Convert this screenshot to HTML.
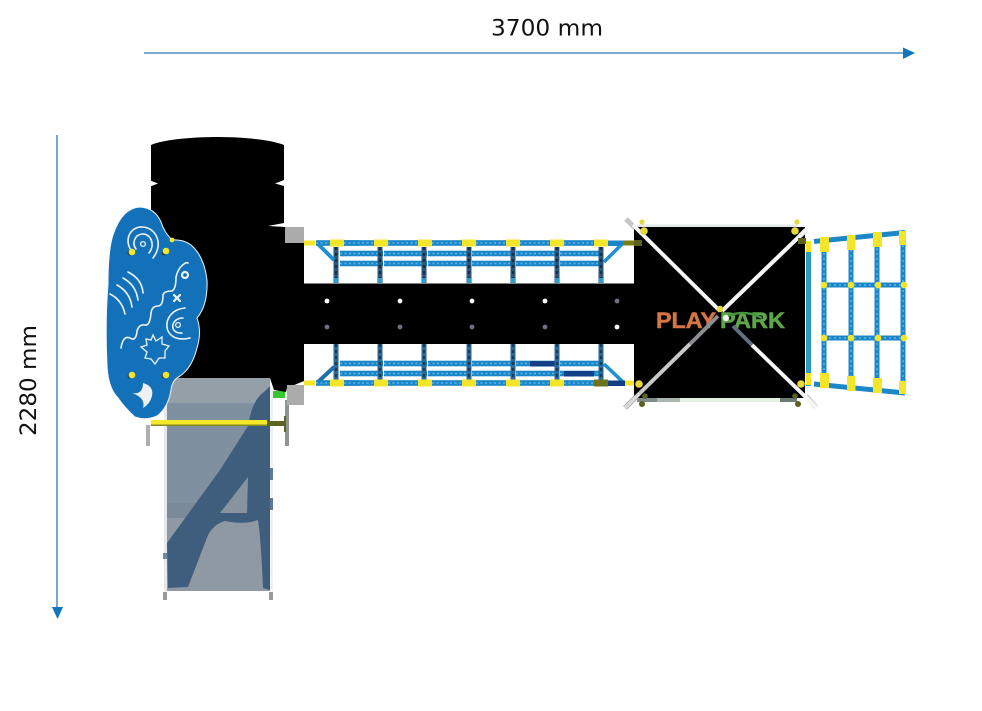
<!DOCTYPE html>
<html>
<head>
<meta charset="utf-8">
<style>
html,body{margin:0;padding:0;background:#fff;width:982px;height:711px;overflow:hidden}
svg{display:block}
.soft{filter:blur(.35px)}
</style>
</head>
<body>
<svg width="982" height="711" viewBox="0 0 982 711" xmlns="http://www.w3.org/2000/svg">
<defs>
<g id="rh"><rect x="0" y="-2.8" width="43" height="5.6" fill="#1b87c9"/><line x1="0" y1="0" x2="43" y2="0" stroke="#5db6e6" stroke-width="1.6" stroke-dasharray="2 2.5"/></g>
<g id="vt"><line x1="0" y1="0" x2="0" y2="36" stroke="#2d587c" stroke-width="5"/><line x1="0" y1="0" x2="0" y2="36" stroke="#18304a" stroke-width="2.4" stroke-dasharray="3 3"/><line x1="0" y1="31" x2="0" y2="36" stroke="#2aa0cc" stroke-width="4"/></g>
<g id="vb"><line x1="0" y1="0" x2="0" y2="39" stroke="#2b6a98" stroke-width="5"/><line x1="0" y1="0" x2="0" y2="39" stroke="#1c3a58" stroke-width="2.4" stroke-dasharray="3 3"/></g>
<rect id="yb" x="-7" y="-3.5" width="14" height="7" fill="#f5e52a"/>
</defs>

<rect width="982" height="711" fill="#fff"/>

<!-- dimension arrows -->
<line x1="144" y1="53" x2="904" y2="53" stroke="#2a7ab8" stroke-width="1.3"/>
<polygon points="903,47.5 915,53 903,59" fill="#1274bb"/>
<line x1="57" y1="135" x2="57" y2="608" stroke="#2a7ab8" stroke-width="1.3"/>
<polygon points="52,607 63,607 57.5,619" fill="#1274bb"/>
<text x="491" y="35.5" font-family="'DejaVu Sans',sans-serif" font-size="22" textLength="112" lengthAdjust="spacingAndGlyphs" fill="#111">3700 mm</text>
<text transform="translate(36,436) rotate(-90)" font-family="'DejaVu Sans',sans-serif" font-size="22" textLength="111" lengthAdjust="spacingAndGlyphs" fill="#111">2280 mm</text>

<g class="soft">
<!-- slide -->
<rect x="164" y="385" width="3" height="206" fill="#e6e8eb"/>
<rect x="270" y="386" width="3" height="205" fill="#f0f1f3"/>
<path d="M167 378 L267 378 Q270 378 270 381 L270 591 L167 591 Z" fill="#8f99a4"/>
<rect x="167" y="378" width="103" height="25" fill="#959fa8"/>
<rect x="167" y="403" width="103" height="115" fill="#7f91a1"/>
<rect x="167" y="503" width="103" height="15" fill="#7a8a99"/>
<path d="M264 392 L270 386 L270 590 L263 588 Q261 540 258 520 L251 522 Q240 524 225 521 Q214 524 208 535 L188 587 L168 588 L167 543 L220 470 L248 426 Q252 400 264 392 Z" fill="#3f5d7c"/>
<path d="M248 477 L220 513 L247 513 Z" fill="#87939f"/>
<rect x="270" y="468" width="3" height="12" fill="#5f7a95"/>
<rect x="270" y="498" width="3" height="12" fill="#5f7a95"/>
<rect x="163" y="553" width="4" height="6" fill="#6f8aa6"/>
<rect x="163" y="592" width="4" height="8" fill="#9a9a9a"/>
<rect x="269" y="592" width="4" height="8" fill="#9a9a9a"/>

<!-- bars under slide -->
<rect x="146" y="425" width="4" height="21" fill="#aeb0ae"/>
<rect x="285" y="400" width="4" height="46" fill="#8c9498"/>
<rect x="273" y="391" width="12" height="7" fill="#37c62d"/>
<rect x="151" y="420" width="116" height="5" fill="#f4e829"/>
<rect x="151" y="424.5" width="116" height="1.5" fill="#848a1e"/>
<rect x="267" y="421" width="18" height="5" fill="#5d6420"/>
<rect x="284" y="416" width="2" height="16" fill="#5d6420"/>

<!-- black tower -->
<path d="M151 145 C165 139 195 137 218 137 C245 137 272 140 284 145 L284 180 L275 183.5 L284 186 L284 223 L268 226 L285 227 L304 227 L304 381 L287 388 L286 392 L274 390 L270 378 L167 378 L160 390 L151 300 Z" fill="#000"/>
<path d="M149 180 L158 183.5 L149 187 Z" fill="#fff"/>
<rect x="285" y="227" width="19" height="16" fill="#ababab"/>
<rect x="287" y="385" width="17" height="20" fill="#ababab"/>

<!-- cloud panel -->
<path d="M140 207 Q155 208 161 222 Q164 232 172 240 Q183 239 191 245 Q204 256 207 280 Q208 305 197 318 Q202 332 197 348 Q192 368 180 376 Q172 380 171 390 Q168 408 157 416 Q146 421 135 417 Q125 408 118 398 Q108 388 107 365 Q105 320 108 285 Q108 250 113 235 Q122 208 140 207 Z" fill="#1271b8" stroke="#f2f6fa" stroke-width="1"/>
<g fill="none" stroke="#eef3f8" stroke-width="1.6" stroke-linecap="round">
<path d="M153 258 C164 244 156 228 143 227 C130 226 124 240 131 250"/>
<path d="M149 253 C156 244 150 233 142 234 C134 235 132 244 136 249"/>
<circle cx="143" cy="244" r="2.4" stroke-width="1.3"/>
<path d="M128 272 Q142 279 143 293"/>
<path d="M123 278 Q136 285 138 300"/>
<path d="M117 285 Q130 292 132 307"/>
<path d="M110 294 Q122 300 125 314"/>
<path d="M121 348 Q123 335 130 338 Q136 342 137 331 Q139 324 145 325 Q150 326 151 313 Q152 306 158 306 Q163 306 163 295 Q164 291 172 291 Q176 289 176 277 Q178 268 184 264 Q186 262 188 263"/>
<path d="M185 308 C160 310 160 345 190 338"/>
<path d="M183 318 C170 318 169 334 182 333"/>
<circle cx="178" cy="325" r="2.4" stroke-width="1.3"/>
<path d="M153 335 L156 341 L162 337 L162 344 L169 346 L165 351 L165 358 L159 358 L155 364 L151 359 L145 358 L147 352 L141 347 L147 345 L146 339 L151 340 Z" stroke-width="1.3"/>
<path d="M174 295 L180 301 M180 295 L174 301" stroke-width="2.2"/>
<circle cx="185" cy="275" r="3" stroke-width="2.2"/>
</g>
<path d="M132 393 Q143 395 143 383 Q154 386 152 396 Q150 404 143 408 Q146 398 132 393 Z" fill="#edf0f4"/>
<g fill="#2c3f55"><circle cx="130" cy="253" r="2.5"/><circle cx="164" cy="253" r="2.5"/><circle cx="130" cy="376" r="2.5"/><circle cx="164" cy="376" r="2.5"/></g>
<g fill="#f2e628">
<circle cx="132" cy="252" r="3.3"/><circle cx="166" cy="251" r="3.3"/><circle cx="132" cy="375" r="3.3"/><circle cx="166" cy="375" r="3.3"/>
<circle cx="172" cy="240" r="2.4"/>
</g>

<!-- black beam -->
<rect x="304" y="283.5" width="331" height="60.5" fill="#000"/>
<g fill="#fff"><circle cx="327" cy="301" r="2.4"/><circle cx="400" cy="301" r="2.4"/><circle cx="472" cy="301" r="2.4"/><circle cx="545" cy="301" r="2.4"/><circle cx="617" cy="327" r="2.4"/></g>
<g fill="#6d7084"><circle cx="617" cy="301" r="2.4"/><circle cx="327" cy="327" r="2.4"/><circle cx="400" cy="327" r="2.4"/><circle cx="472" cy="327" r="2.4"/><circle cx="545" cy="327" r="2.4"/></g>

<!-- bridge top -->
<g>
<use href="#rh" x="340" y="253.5"/><use href="#rh" x="384" y="253.5"/><use href="#rh" x="428" y="253.5"/><use href="#rh" x="472" y="253.5"/><use href="#rh" x="516" y="253.5"/><use href="#rh" x="560" y="253.5"/>
<use href="#rh" x="340" y="263.5"/><use href="#rh" x="384" y="263.5"/><use href="#rh" x="428" y="263.5"/><use href="#rh" x="472" y="263.5"/><use href="#rh" x="516" y="263.5"/><use href="#rh" x="560" y="263.5"/>
<use href="#vt" x="336" y="247"/><use href="#vt" x="380" y="247"/><use href="#vt" x="424" y="247"/><use href="#vt" x="469" y="247"/><use href="#vt" x="513" y="247"/><use href="#vt" x="557" y="247"/><use href="#vt" x="601" y="247"/>
<line x1="318" y1="244" x2="334" y2="260" stroke="#1f8fd0" stroke-width="4"/>
<line x1="622" y1="244" x2="604" y2="262" stroke="#1f8fd0" stroke-width="3.5"/>
<use href="#rh" x="316" y="243"/><use href="#rh" x="344" y="243"/><use href="#rh" x="388" y="243"/><use href="#rh" x="432" y="243"/><use href="#rh" x="476" y="243"/><use href="#rh" x="520" y="243"/><use href="#rh" x="564" y="243"/>
<rect x="608" y="240.5" width="15" height="5.5" fill="#1b87c9"/>
<rect x="304" y="240.5" width="11" height="5" fill="#f5e52a"/>
<use href="#yb" x="337" y="243"/><use href="#yb" x="381" y="243"/><use href="#yb" x="425" y="243"/><use href="#yb" x="469" y="243"/><use href="#yb" x="513" y="243"/><use href="#yb" x="557" y="243"/><use href="#yb" x="601" y="243"/>
<rect x="623" y="240.5" width="14" height="5" fill="#7c7c18"/>
</g>

<!-- bridge bottom -->
<g>
<use href="#rh" x="340" y="363.5"/><use href="#rh" x="384" y="363.5"/><use href="#rh" x="428" y="363.5"/><use href="#rh" x="472" y="363.5"/><use href="#rh" x="516" y="363.5"/><use href="#rh" x="560" y="363.5"/>
<use href="#rh" x="340" y="373.5"/><use href="#rh" x="384" y="373.5"/><use href="#rh" x="428" y="373.5"/><use href="#rh" x="472" y="373.5"/><use href="#rh" x="516" y="373.5"/><use href="#rh" x="560" y="373.5"/>
<rect x="530" y="361" width="27" height="5.5" fill="#123f86"/>
<rect x="564" y="371" width="30" height="5.5" fill="#123f86"/>
<use href="#vb" x="336" y="344"/><use href="#vb" x="380" y="344"/><use href="#vb" x="424" y="344"/><use href="#vb" x="469" y="344"/><use href="#vb" x="513" y="344"/><use href="#vb" x="557" y="344"/><use href="#vb" x="601" y="344"/>
<line x1="318" y1="382" x2="334" y2="367" stroke="#1f6fa8" stroke-width="4"/>
<line x1="604" y1="364" x2="624" y2="383" stroke="#1f8fd0" stroke-width="3.5"/>
<use href="#rh" x="316" y="383"/><use href="#rh" x="344" y="383"/><use href="#rh" x="388" y="383"/><use href="#rh" x="432" y="383"/><use href="#rh" x="476" y="383"/><use href="#rh" x="520" y="383"/><use href="#rh" x="564" y="383"/>
<rect x="304" y="380.5" width="11" height="5" fill="#f5e52a"/>
<use href="#yb" x="337" y="383"/><use href="#yb" x="381" y="383"/><use href="#yb" x="425" y="383"/><use href="#yb" x="469" y="383"/><use href="#yb" x="513" y="383"/><use href="#yb" x="557" y="383"/>
<rect x="594" y="379.5" width="14" height="7" fill="#6e7320"/>
<rect x="608" y="380.5" width="17" height="5.5" fill="#123f86"/>
<rect x="625" y="380.5" width="12" height="5" fill="#f5e52a"/>
</g>

<!-- net right -->
<g>
<rect x="806" y="241" width="5" height="145" fill="#2a9cc4"/>
<g stroke="#1b87c9" stroke-width="5" fill="none">
<line x1="814" y1="241.5" x2="905" y2="232.5"/>
<line x1="814" y1="384" x2="905" y2="393"/>
<line x1="824" y1="243" x2="824" y2="385"/>
<line x1="851" y1="240" x2="851" y2="388"/>
<line x1="877" y1="238" x2="877" y2="390"/>
<line x1="903" y1="235" x2="903" y2="393"/>
<line x1="824" y1="285" x2="903" y2="285"/>
<line x1="824" y1="338" x2="903" y2="338"/>
</g>
<g stroke="#5db6e6" stroke-width="1.4" stroke-dasharray="2 3" fill="none">
<line x1="824" y1="243" x2="824" y2="385"/>
<line x1="851" y1="240" x2="851" y2="388"/>
<line x1="877" y1="238" x2="877" y2="390"/>
<line x1="903" y1="235" x2="903" y2="393"/>
<line x1="824" y1="285" x2="903" y2="285"/>
<line x1="824" y1="338" x2="903" y2="338"/>
</g>
<g fill="#f5e52a">
<rect x="806" y="241" width="5" height="11"/>
<rect x="806" y="373" width="5" height="12"/>
<rect x="820" y="237" width="9" height="15"/><rect x="847" y="235" width="8.5" height="15"/><rect x="873" y="232" width="9" height="15"/><rect x="899" y="231" width="7" height="14"/>
<rect x="820" y="373" width="9" height="15"/><rect x="847" y="376" width="8.5" height="15"/><rect x="873" y="378" width="9" height="15"/><rect x="899" y="381" width="7" height="13"/>
<circle cx="824" cy="285" r="3.3"/><circle cx="851" cy="285" r="3.3"/><circle cx="878" cy="285" r="3.3"/><circle cx="904" cy="285" r="3.3"/>
<circle cx="824" cy="338" r="3.3"/><circle cx="851" cy="338" r="3.3"/><circle cx="878" cy="338" r="3.3"/><circle cx="904" cy="338" r="3.3"/>
</g>
</g>

<!-- black square deck -->
<rect x="634" y="227" width="171" height="171" fill="#000"/>
<rect x="637" y="224.5" width="160" height="2.5" fill="#e5e8ea"/>
<rect x="637" y="398" width="20" height="4" fill="#7d8c8a"/>
<rect x="680" y="398" width="100" height="4" fill="#e3f1e2"/>
<rect x="657" y="398" width="23" height="4" fill="#a9b7b0"/>
<rect x="780" y="398" width="17" height="4" fill="#6c7b78"/>

<!-- logo -->
<text x="656" y="328" font-family="'Liberation Sans',sans-serif" font-weight="bold" font-size="22" textLength="60" lengthAdjust="spacingAndGlyphs" fill="#d57543" stroke="#d57543" stroke-width=".5">PLAY</text>
<text x="720" y="328" font-family="'Liberation Sans',sans-serif" font-weight="bold" font-size="22" textLength="65" lengthAdjust="spacingAndGlyphs" fill="#5da548" stroke="#5da548" stroke-width=".5">PARK</text>

<!-- X struts -->
<g stroke-width="5" stroke="#c4c6c8">
<line x1="626" y1="219" x2="635" y2="228"/>
<line x1="806" y1="396" x2="816" y2="407"/>
<line x1="806" y1="230" x2="800" y2="236"/>
<line x1="636" y1="397" x2="625" y2="408" stroke="#8d9092"/>
</g>
<line x1="633" y1="225" x2="720" y2="311" stroke="#f6f6f6" stroke-width="4"/>
<line x1="807" y1="229" x2="722" y2="311" stroke="#f6f6f6" stroke-width="4"/>
<line x1="718" y1="316" x2="690" y2="344" stroke="#8a8c90" stroke-width="4"/>
<line x1="690" y1="344" x2="640" y2="393" stroke="#c9c9cb" stroke-width="4"/>
<line x1="640" y1="393" x2="625" y2="408" stroke="#d8d8d8" stroke-width="4"/>
<line x1="733" y1="326" x2="752" y2="345" stroke="#5f6f82" stroke-width="4"/>
<line x1="752" y1="345" x2="817" y2="408" stroke="#f6f6f6" stroke-width="4"/>
<circle cx="720" cy="309" r="3.2" fill="#e6d93a"/>
<circle cx="726" cy="318" r="3.2" fill="#f2fbf0"/>
<path d="M728 316 Q745 309 762 318" stroke="#3f9a3a" stroke-width="2.4" fill="none"/>

<!-- corner joints -->
<g fill="#e6d93a">
<circle cx="644" cy="231" r="3.8"/><circle cx="795" cy="231" r="3.8"/>
<circle cx="639" cy="384" r="3.8"/><circle cx="801" cy="384" r="3.8"/>
<circle cx="642" cy="222" r="2.6"/><circle cx="797" cy="222" r="2.6"/>
</g>
<g fill="#5c6020">
<rect x="634" y="240" width="8" height="6"/>
<rect x="798" y="238" width="8" height="6"/>
<circle cx="642" cy="404" r="3"/><circle cx="798" cy="404" r="3"/>
<circle cx="645" cy="396" r="2.8"/><circle cx="795" cy="396" r="2.8"/>
</g>
</g>
</svg>
</body>
</html>
